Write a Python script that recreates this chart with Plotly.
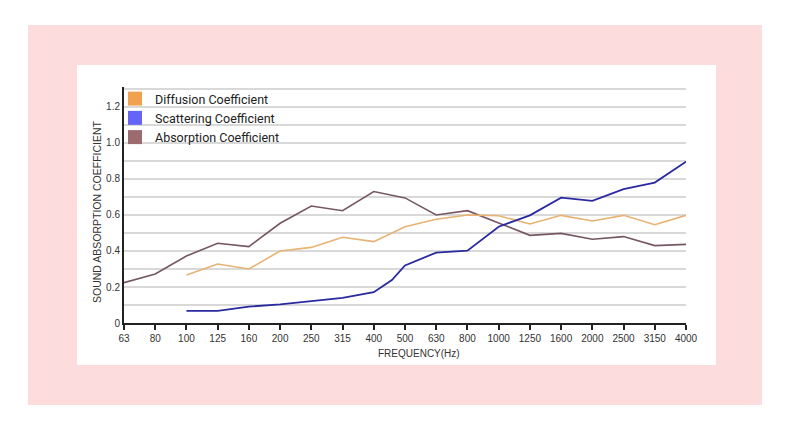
import plotly.graph_objects as go

# ---- data ----
freq_labels = ['63', '80', '100', '125', '160', '200', '250', '315', '400', '500',
               '630', '800', '1000', '1250', '1600', '2000', '2500', '3150', '4000']
freq_pos = list(range(len(freq_labels)))

absorption = [0.224, 0.272, 0.372, 0.443, 0.424, 0.554, 0.650, 0.624, 0.730, 0.695,
              0.600, 0.624, 0.556, 0.487, 0.498, 0.465, 0.480, 0.430, 0.437]

diffusion_pos = freq_pos[2:]
diffusion = [0.267, 0.328, 0.300, 0.400, 0.420, 0.476, 0.452, 0.535, 0.576, 0.600,
             0.596, 0.550, 0.598, 0.567, 0.598, 0.546, 0.598]

# scattering curve has an extra bend between 400 and 500 Hz
scattering_pos = [2, 3, 4, 5, 6, 7, 8, 8.58, 9, 10, 11, 12, 13, 14, 15, 16, 17, 18]
scattering = [0.067, 0.067, 0.091, 0.104, 0.122, 0.139, 0.171, 0.239, 0.320, 0.391,
              0.402, 0.535, 0.598, 0.696, 0.678, 0.744, 0.780, 0.896]

y_ticks = [round(i * 0.1, 1) for i in range(14)]
y_ticktext = ['0' if v == 0 else (f'{v:.1f}' if i % 2 == 0 else '') for i, v in enumerate(y_ticks)]

legend_names = ['Diffusion Coefficient', 'Scattering Coefficient', 'Absorption Coefficient']
legend_colors = ['#F2A24E', '#6464F6', '#9C6B70']
line_colors = ['#E8B273', '#2A2AA0', '#765665']

fig = go.Figure()

fig.add_trace(go.Scatter(x=freq_pos, y=absorption, mode='lines',
                         line=dict(color=line_colors[2], width=1.6), showlegend=False))
fig.add_trace(go.Scatter(x=diffusion_pos, y=diffusion, mode='lines',
                         line=dict(color=line_colors[0], width=1.6), showlegend=False))
fig.add_trace(go.Scatter(x=scattering_pos, y=scattering, mode='lines',
                         line=dict(color=line_colors[1], width=1.8), showlegend=False))

for name, col in zip(legend_names, legend_colors):
    fig.add_trace(go.Scatter(x=[None], y=[None], mode='markers', name=name,
                             marker=dict(symbol='square', size=14, color=col)))

OFF = 8  # page body margin
L, R, T, B = 124 - OFF, 686 - OFF, 87 - OFF, 323 - OFF
W, H = R - L, B - T

def px(x):
    return (x - OFF - L) / W

def py(y):
    return (B - (y - OFF)) / H

fig.update_layout(
    width=790, height=434,
    margin=dict(l=L, r=790 - R, t=T, b=434 - B, autoexpand=False),
    paper_bgcolor='white', plot_bgcolor='rgba(0,0,0,0)',
    font=dict(family='Liberation Sans, Arial, sans-serif', size=10, color='#333333'),
    shapes=[
        dict(type='rect', xref='paper', yref='paper', x0=px(28), x1=px(762), y0=py(405), y1=py(25),
             fillcolor='#FCDCDC', line=dict(width=0), layer='below'),
        dict(type='rect', xref='paper', yref='paper', x0=px(77), x1=px(716), y0=py(365), y1=py(65),
             fillcolor='white', line=dict(width=0), layer='below'),
    ],
    xaxis=dict(range=[0, 18], tickvals=freq_pos, ticktext=freq_labels, showgrid=False,
               showline=True, linecolor='#222222', linewidth=2, ticks='outside', ticklen=5,
               tickwidth=1.5, tickcolor='#222222', zeroline=False,
               tickfont=dict(size=10, color='#333333')),
    yaxis=dict(range=[0, 1.311], tickvals=y_ticks, ticktext=y_ticktext, showgrid=True,
               gridcolor='#D9D9D9', gridwidth=2, showline=True, linecolor='#222222', linewidth=2,
               ticks='', zeroline=False, tickfont=dict(size=10, color='#333333')),
    legend=dict(x=px(115), y=py(84), xanchor='left', yanchor='top', bgcolor='rgba(0,0,0,0)',
                font=dict(family='Roboto, sans-serif', size=12.5, color='#222222'),
                traceorder='normal'),
    annotations=[
        dict(text='SOUND ABSORPTION COEFFICIENT', xref='paper', yref='paper', x=px(97), y=py(212),
             xanchor='center', yanchor='middle',
             textangle=-90, showarrow=False, font=dict(size=10.5, color='#333333')),
        dict(text='FREQUENCY(Hz)', xref='paper', yref='paper', x=px(419), y=py(353),
             xanchor='center', yanchor='middle',
             showarrow=False, font=dict(size=10, color='#333333')),
    ],
)

fig.write_html('out.html')
